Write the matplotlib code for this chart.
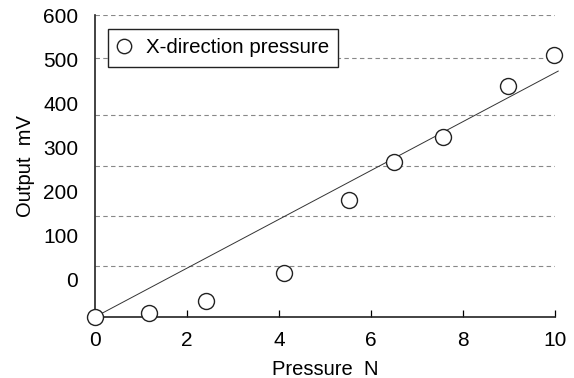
import matplotlib.pyplot as plt

plt.rcParams['font.family'] = ['Liberation Sans', 'DejaVu Sans']

# measured data (y in the units of the printed tick labels)
pressure = [0, 1.18, 2.41, 4.11, 5.52, 6.49, 7.57, 8.97, 9.98]
output = [-84, -74, -47, 15, 181, 266, 324, 439, 509]
fit_x = [0, 10.07]
fit_y = [-84, 473]
y_ticks = [0, 100, 200, 300, 400, 500, 600]
x_ticks = [0, 2, 4, 6, 8, 10]
grid_levels = [32, 145, 258, 374, 503, 600]

fig = plt.figure(figsize=(5.74, 3.78), dpi=100)
ax = fig.add_axes([0.1655, 0.1614, 0.8014, 0.7989])

ax.hlines(grid_levels, 0, 10, colors='#888888', linestyles=(0, (4, 3)), linewidth=0.8)
ax.plot(fit_x, fit_y, color='#333333', linewidth=0.7, clip_on=False)
ax.plot(pressure, output, 'o', mfc='white', mec='#222222', ms=11.5, mew=1.0,
        clip_on=False, label='X-direction pressure', zorder=3)

ax.set_xlim(0, 10)
ax.set_ylim(-84, 600)
ax.set_xticks(x_ticks)
ax.set_yticks(y_ticks)
ax.tick_params(axis='x', direction='in', length=5, width=0.9, pad=10, labelsize=15)
ax.tick_params(axis='y', length=0, pad=12, labelsize=15)
for s in ['top', 'right']:
    ax.spines[s].set_visible(False)
for s in ['left', 'bottom']:
    ax.spines[s].set_linewidth(1.2)
    ax.spines[s].set_color('#222222')

ax.set_xlabel('Pressure  N', fontsize=14.5, labelpad=7)
ax.set_ylabel('Output  mV', fontsize=14.5, labelpad=6)

leg = ax.legend(loc='upper left', bbox_to_anchor=(0.0283, 0.9536), borderaxespad=0,
                fontsize=14.8, fancybox=False, framealpha=1, edgecolor='#222222',
                handletextpad=0.7, borderpad=0.45, handlelength=0.7, markerscale=0.9)
leg.get_frame().set_linewidth(1.0)

fig.savefig('out.png', dpi=100)
